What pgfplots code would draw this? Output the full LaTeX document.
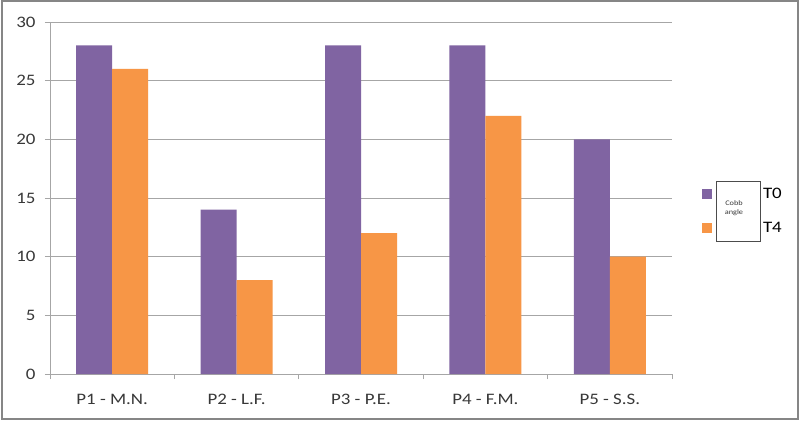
\documentclass[border=0pt]{standalone}
\usepackage{pgfplots}
\pgfplotsset{compat=1.18}
\usepackage{fontspec}
\setmainfont{Carlito}[FakeStretch=1.18]
\definecolor{cpurple}{HTML}{8064A2}
\definecolor{corange}{HTML}{F79646}
\definecolor{axgray}{HTML}{A6A6A6}
\definecolor{frgray}{HTML}{868686}
\definecolor{txt}{HTML}{383838}
\begin{document}
\begin{tikzpicture}
\useasboundingbox (0,0) rectangle (800bp,423bp);
\fill[white] (0,0) rectangle (800bp,423bp);
\begin{axis}[
  at={(50bp,49bp)}, anchor=south west,
  scale only axis, width=622bp, height=352bp,
  ybar=0pt, bar width=36bp,
  xmin=0.5, xmax=5.5, ymin=0, ymax=30,
  ytick={0,5,...,30},
  xtick={0.5,1.5,2.5,3.5,4.5,5.5}, xticklabels={},
  extra x ticks={1,2,3,4,5},
  extra x tick labels={P1 - M.N.,P2 - L.F.,P3 - P.E.,P4 - F.M.,P5 - S.S.},
  extra x tick style={major tick length=0pt, grid=none},
  axis x line*=bottom, axis y line*=left,
  axis line style={draw=axgray, line width=1pt, -},
  tick style={draw=axgray, line width=1pt},
  tick align=outside, major tick length=5bp,
  ymajorgrids, grid style={draw=axgray, line width=1pt},
  /pgf/number format/assume math mode=true,
  tick label style={font=\fontsize{16bp}{19bp}\selectfont, text=txt},
  yticklabel style={xshift=-6bp},
  xticklabel style={yshift=-17bp},
  legend image code/.code={\fill[#1] (0bp,-5bp) rectangle (10bp,5bp);},
  legend style={at={(1.048,0.463)}, anchor=west, draw=none, fill=none, inner sep=0pt,
    row sep=18bp, font=\fontsize{16bp}{19bp}\selectfont,
    /tikz/every odd column/.append style={column sep=49bp}},
  legend cell align=left,
]
\addplot[fill=cpurple, draw=none] coordinates {(1,28) (2,14) (3,28) (4,28) (5,20)};
\addplot[fill=corange, draw=none] coordinates {(1,26) (2,8) (3,12) (4,22) (5,10)};
\legend{T0,T4}
\end{axis}
\draw[frgray, line width=2bp] (2bp,4bp) rectangle (798bp,422bp);
\draw[black!70, line width=0.8bp, fill=white] (716bp,182bp) rectangle (760bp,242bp);
\node[font=\fontsize{7bp}{8.5bp}\selectfont, align=center, text=txt] at (734bp,215bp) {Cobb\\angle};
\end{tikzpicture}
\end{document}
